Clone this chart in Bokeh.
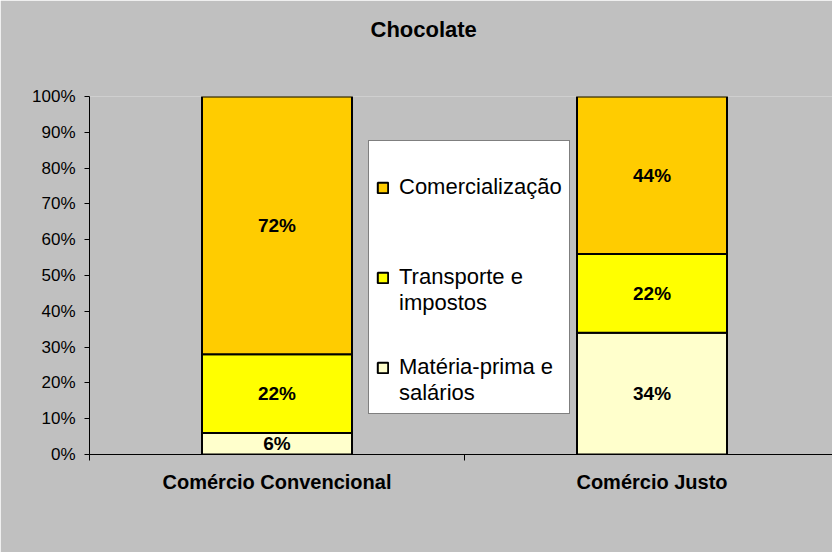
from bokeh.plotting import figure
from bokeh.models import (ColumnDataSource, Range1d, FixedTicker, NumeralTickFormatter,
                          Legend, LegendItem, Title)
from bokeh.core.properties import value
from bokeh.embed import file_html
from bokeh.resources import INLINE

title_text = "Chocolate"
categories = ["Comércio Convencional", "Comércio Justo"]
series_labels = ["Matéria-prima e\nsalários", "Transporte e\nimpostos", "Comercialização"]
materia_prima = [0.06, 0.34]
transporte = [0.22, 0.22]
comercializacao = [0.72, 0.44]
y_ticks = [0.0, 0.1, 0.2, 0.3, 0.4, 0.5, 0.6, 0.7, 0.8, 0.9, 1.0]
colors = ["#FFFFCC", "#FFFF00", "#FFCC00"]

FONT = "Liberation Sans"

x = [i + 0.5 for i in range(len(categories))]
stack_keys = ["materia", "transporte", "comercial"]
source = ColumnDataSource(dict(x=x, materia=materia_prima, transporte=transporte,
                               comercial=comercializacao))

p = figure(width=832, height=552, output_backend="svg", toolbar_location=None,
           x_range=Range1d(0, 1.9813), y_range=Range1d(0, 1),
           min_border_left=89, min_border_top=96, min_border_bottom=98, min_border_right=0,
           background_fill_color="#C0C0C0", border_fill_color="#C0C0C0",
           outline_line_color=None)

# title: two empty lines below it lift it towards the top of the chart area
p.title = Title(text=title_text + "\n \n ", align="left", offset=281, standoff=9,
                vertical_align="bottom",
                text_font=FONT, text_font_size="22px", text_font_style="bold",
                text_color="black")

renderers = p.vbar_stack(stack_keys, x="x", width=0.4, fill_color=colors,
                         line_color="black", line_width=2, source=source)

# segment labels
lab_x, lab_y, lab_t = [], [], []
for i in range(len(categories)):
    base = 0.0
    for vals in (materia_prima, transporte, comercializacao):
        v = vals[i]
        lab_x.append(x[i])
        lab_y.append(base + v / 2)
        lab_t.append(f"{round(v * 100)}%")
        base += v
p.text(x=lab_x, y=lab_y, text=lab_t, text_align="center", text_baseline="middle",
       text_font=value(FONT), text_font_size="19px", text_font_style="bold",
       text_color="black")

# axes
xa = p.xaxis[0]
xa.ticker = FixedTicker(ticks=x, minor_ticks=[0, 1, 2])
xa.major_label_overrides = {xi: c for xi, c in zip(x, categories)}
xa.major_tick_line_color = None
xa.major_tick_out = 0
xa.major_tick_in = 0
xa.minor_tick_out = 6
xa.minor_tick_in = 0
xa.minor_tick_line_color = "black"
xa.axis_line_color = "black"
xa.major_label_standoff = 10
xa.major_label_text_font = FONT
xa.major_label_text_font_size = "20px"
xa.major_label_text_font_style = "bold"
xa.major_label_text_color = "black"

ya = p.yaxis[0]
ya.ticker = FixedTicker(ticks=y_ticks)
ya.formatter = NumeralTickFormatter(format="0%")
ya.major_tick_out = 5
ya.major_tick_in = 0
ya.minor_tick_line_color = None
ya.major_tick_line_color = "black"
ya.axis_line_color = "black"
ya.major_label_standoff = 9
ya.major_label_text_font = FONT
ya.major_label_text_font_size = "17px"
ya.major_label_text_color = "black"

p.xgrid.visible = False
p.ygrid.visible = False

# legend: each entry padded to three lines so the swatch lines up with the first text line
def legend_text(lbl):
    lines = lbl.split("\n")
    if len(lines) == 1:
        return " \n" + lbl + "\n "
    return " \n" + lbl

items = [LegendItem(label=legend_text(series_labels[i]), renderers=[renderers[i]])
         for i in reversed(range(len(renderers)))]
legend = Legend(items=items, location=(279, 40), margin=0, padding=7, spacing=12,
                glyph_width=13, glyph_height=13, label_standoff=10,
                label_text_font=FONT, label_text_font_size="22px", label_text_color="black",
                border_line_color="black", border_line_width=1,
                background_fill_color="white", background_fill_alpha=1.0)
p.add_layout(legend)

open("out.html", "w").write(file_html(p, INLINE))
